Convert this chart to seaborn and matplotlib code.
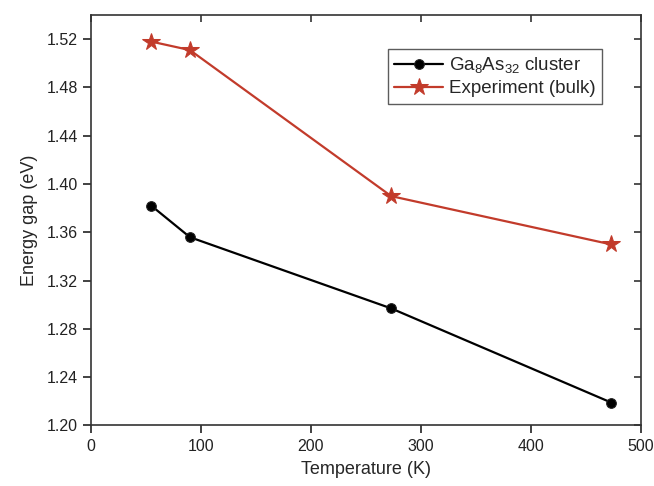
import matplotlib
matplotlib.use("Agg")
import matplotlib.pyplot as plt
import seaborn as sns
import pandas as pd

temps = [55, 90, 273, 473]
cluster_gap = [1.382, 1.356, 1.297, 1.219]
bulk_gap = [1.518, 1.511, 1.390, 1.350]
series_names = ["Ga$_8$As$_{32}$ cluster", "Experiment (bulk)"]
x_ticks = [0, 100, 200, 300, 400, 500]
y_ticks = [1.20, 1.24, 1.28, 1.32, 1.36, 1.40, 1.44, 1.48, 1.52]

sns.set_theme(style="white")
plt.rcParams["font.family"] = ["Liberation Sans", "DejaVu Sans"]
plt.rcParams["mathtext.default"] = "regular"

df_c = pd.DataFrame({"T": temps, "E": cluster_gap, "series": series_names[0]})
df_b = pd.DataFrame({"T": temps, "E": bulk_gap, "series": series_names[1]})

fig = plt.figure(figsize=(6.54, 4.86), dpi=100)
ax = fig.add_axes([0.139, 0.1245, 0.841, 0.8445])

sns.lineplot(data=df_c, x="T", y="E", ax=ax, color="black", marker="o",
             markersize=7, linewidth=1.6, markeredgecolor="#222222",
             label=series_names[0])
sns.lineplot(data=df_b, x="T", y="E", ax=ax, color="#c23b2b", marker="*",
             markersize=13, linewidth=1.6, markeredgecolor="#c23b2b",
             label=series_names[1])

ax.set_xlim(0, 500)
ax.set_ylim(1.20, 1.54)
ax.set_xticks(x_ticks)
ax.set_yticks(y_ticks)
ax.set_yticklabels([f"{v:.2f}" for v in y_ticks])
ax.set_xlabel("Temperature (K)", fontsize=13, labelpad=5)
ax.set_ylabel("Energy gap (eV)", fontsize=13, labelpad=6)
ax.tick_params(axis="both", direction="out", length=6, width=1.2,
               labelsize=11.5, colors="#222222", bottom=True, left=True)
for sp in ax.spines.values():
    sp.set_color("#333333")
    sp.set_linewidth(1.2)

top = ax.secondary_xaxis("top")
top.set_xticks(x_ticks)
top.tick_params(direction="in", length=5, width=1.2, labeltop=False, colors="#333333")
top.spines["top"].set_visible(False)
right = ax.secondary_yaxis("right")
right.set_yticks(y_ticks)
right.tick_params(direction="in", length=5, width=1.2, labelright=False, colors="#333333")
right.spines["right"].set_visible(False)

leg = ax.legend(loc="upper left", bbox_to_anchor=(0.54, 0.918), fontsize=13.5,
                frameon=True, fancybox=False, edgecolor="#333333",
                handlelength=2.6, borderpad=0.35, labelspacing=0.25,
                handletextpad=0.3, borderaxespad=0)
leg.get_frame().set_linewidth(1.0)

fig.savefig("out.png", dpi=100)
